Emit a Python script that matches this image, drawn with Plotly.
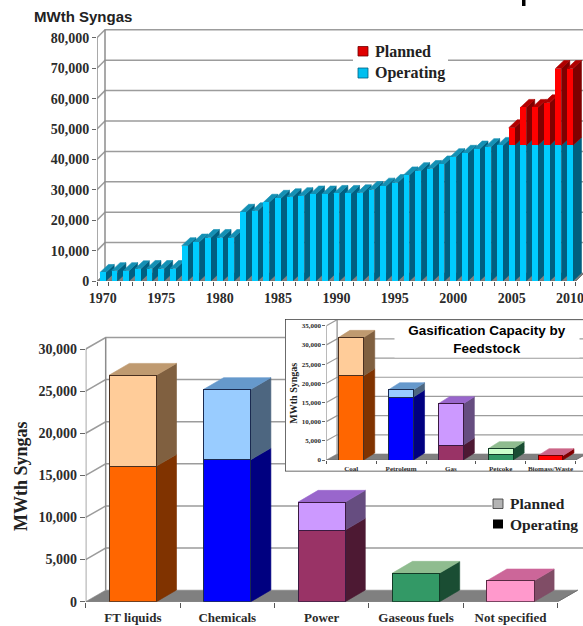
import plotly.graph_objects as go

W, H = 583, 626
SERIF = "Liberation Serif"
SANS = "Liberation Sans"
AXIS_TXT = "#2b2b2b"
GRID = "#9c9c9c"

# ---- top chart data -------------------------------------------------------
years = list(range(1970, 2011))
op_by_year = [2800, 3400, 3400, 4000, 4100, 4100, 4100, 11600, 12800, 14300, 14300,
              14300, 22600, 23100, 25900, 27200, 27700, 28060, 28600, 28600, 28800,
              28800, 29000, 30100, 31200, 32400, 34900, 36300, 37000, 38500, 40900,
              42000, 43400, 44200, 44600, 44600, 44600, 44600, 44600, 44600, 44600]
plan_by_year = [0] * 35 + [5800, 12500, 12500, 14000, 25300, 25300]
year_ticks = [1970, 1975, 1980, 1985, 1990, 1995, 2000, 2005, 2010]
top_y_ticks = [0, 10000, 20000, 30000, 40000, 50000, 60000, 70000, 80000]

# ---- lower chart data -----------------------------------------------------
products = ["FT liquids", "Chemicals", "Power", "Gaseous fuels", "Not specified"]
op_by_product = [16100, 16860, 8510, 3400, 2490]
plan_by_product = [10800, 8350, 3320, 0, 0]
low_y_ticks = [0, 5000, 10000, 15000, 20000, 25000, 30000]

# ---- inset data -----------------------------------------------------------
feedstocks = ["Coal", "Petroleum", "Gas", "Petcoke", "Biomass/Waste"]
op_by_feed = [21970, 16410, 3900, 1560, 1130]
plan_by_feed = [9990, 1910, 10780, 1390, 0]
inset_y_ticks = [0, 5000, 10000, 15000, 20000, 25000, 30000, 35000]

# ---- colours per bar: front op, front planned, side op, side planned, top, edge
PAL_TOP_OP = dict(f="#00CCFF", s="#005F80", t="#1490B4", e="#0090B8")
PAL_TOP_PL = dict(f="#FF0000", s="#800000", t="#B00000", e="#D00000")
PAL_ORANGE = dict(f="#FF6600", p="#FFCC99", s="#803300", sp="#806040", t="#BF9A70", e="#4a3020")
PAL_BLUE = dict(f="#0000FF", p="#99CCFF", s="#000080", sp="#4D6680", t="#6699CC", e="#1a2a50")
PAL_PLUM = dict(f="#993366", p="#CC99FF", s="#4D1933", sp="#664D80", t="#9966CC", e="#3a1a40")
PAL_GREEN = dict(f="#339966", p="#CCFFCC", s="#1A4D33", sp="#1A4D33", t="#8FBC8F", e="#123a26")
PAL_PINK = dict(f="#FF99CC", p="#FF99CC", s="#804D66", sp="#804D66", t="#CC6699", e="#5a2a44")
PAL_RED = dict(f="#FF0000", p="#FF0000", s="#800000", sp="#800000", t="#CC6688", e="#700000")


def ydom(bottom_px, top_px):
    return [1 - bottom_px / H, 1 - top_px / H]


fig = go.Figure()
axes = {}


def poly_store():
    return {}


def add_poly(store, color, xs, ys):
    pts = store.setdefault(color, ([], []))
    pts[0].extend(list(xs) + [xs[0], None])
    pts[1].extend(list(ys) + [ys[0], None])


def flush(store, xa, ya, line_w=0.6, line_color=None):
    for color, (xs, ys) in store.items():
        fig.add_trace(go.Scatter(x=xs, y=ys, xaxis=xa, yaxis=ya, mode="lines", fill="toself",
                                 fillcolor=color, line=dict(color=line_color or color, width=line_w),
                                 hoverinfo="skip", showlegend=False, cliponaxis=False))


def lines(xs, ys, xa, ya, color=GRID, width=1.5):
    fig.add_trace(go.Scatter(x=xs, y=ys, xaxis=xa, yaxis=ya, mode="lines",
                             line=dict(color=color, width=width), hoverinfo="skip",
                             showlegend=False, cliponaxis=False))


def chart(ids, x0_px, sp_px, zero_px, unit_px, top_px, right_px, positions, labels_x, labels_text,
          ops, plans, pal_op, pal_plan, y_ticks, dx_wall_px, dy_wall_px, dx_px, dy_px, bar_w,
          floor_color, tick_font, xlab_font, edge=True, ticklen=5, xlabel_pad=6, grid_w=1.5):
    xa, ya, xb, yb = ids
    left = positions[0] - 0.5
    right = positions[-1] + 0.5
    x_max = left + (right_px - x0_px) / sp_px
    y_hi = (zero_px - top_px) / unit_px
    wx = dx_wall_px / sp_px
    wy = dy_wall_px / unit_px
    dx = dx_px / sp_px
    dy = dy_px / unit_px
    tmax = y_ticks[-1]

    # floor
    if floor_color:
        add = {}
        add_poly(add, floor_color, [left, right, right + wx, left + wx], [0, 0, wy, wy])
        flush(add, xa, ya)
    # back wall
    for v in y_ticks:
        if v == 0:
            continue
        lines([left, left + wx, x_max], [v, v + wy, v + wy], xa, ya, width=grid_w)
    lines([left, left], [0, tmax], xa, ya, color="#8c8c8c", width=grid_w)
    lines([left + wx, left + wx], [wy, tmax + wy], xa, ya, color="#8c8c8c", width=grid_w)
    lines([left, right, right + wx], [0, 0, wy], xa, ya, color="#707070", width=1)

    sides, tops = poly_store(), poly_store()
    for i, p in enumerate(positions):
        l, r = p - bar_w / 2, p + bar_w / 2
        po, pp = pal_op[i], pal_plan[i]
        o, q = ops[i], plans[i]
        add_poly(sides, po["s"], [r, r + dx, r + dx, r], [0, dy, o + dy, o])
        total = o + q
        if q > 0:
            add_poly(sides, pp.get("sp", pp["s"]), [r, r + dx, r + dx, r], [o, o + dy, total + dy, total])
        add_poly(tops, pp["t"] if q > 0 else po["t"], [l, r, r + dx, l + dx],
                 [total, total, total + dy, total + dy])
    flush(sides, xa, ya)
    flush(tops, xa, ya)

    def line_for(pals):
        if not edge:
            return dict(width=0)
        return dict(color=[c["e"] for c in pals], width=1)

    fig.add_trace(go.Bar(x=positions, y=ops, xaxis=xb, yaxis=yb, width=bar_w, name="Operating",
                         marker=dict(color=[c["f"] for c in pal_op], line=line_for(pal_op)),
                         showlegend=False, hoverinfo="x+y"))
    fig.add_trace(go.Bar(x=positions, y=plans, xaxis=xb, yaxis=yb, width=bar_w, name="Planned",
                         marker=dict(color=[c.get("p", c["f"]) for c in pal_plan], line=line_for(pal_plan)),
                         showlegend=False, hoverinfo="x+y"))

    edges = [p - 0.5 for p in positions] + [right]
    dom = [x0_px / W, right_px / W]
    yd = ydom(zero_px, top_px)
    base = dict(domain=dom, range=[left, x_max], showgrid=False, zeroline=False, showline=False)
    axes[xa] = dict(base, anchor=ya, tickmode="array", tickvals=edges, ticktext=[""] * len(edges),
                    ticks="outside", ticklen=ticklen, tickcolor="#555555", tickwidth=1)
    axes[ya] = dict(domain=yd, range=[0, y_hi], anchor=xa, showgrid=False, zeroline=False, showline=False,
                    tickmode="array", tickvals=y_ticks, tickformat=",", ticks="outside", ticklen=ticklen,
                    tickcolor="#666666", tickwidth=1, tickfont=tick_font)
    axes[xb] = dict(base, anchor=yb, overlaying=xa, tickmode="array", tickvals=labels_x, ticktext=labels_text,
                    ticks="outside", ticklen=xlabel_pad, tickcolor="rgba(0,0,0,0)", tickfont=xlab_font,
                    ticklabeloverflow="allow")
    axes[yb] = dict(domain=yd, range=[0, y_hi], anchor=xb, overlaying=ya, visible=False)


def bold(size):
    return dict(family=SERIF, size=size, color=AXIS_TXT, weight="bold")


# -- top chart
chart(("x", "y", "x2", "y2"), 97, 11.68, 281, 30.4 / 10000, 29, 583, years, year_ticks,
      [str(y) for y in year_ticks], op_by_year, plan_by_year, [PAL_TOP_OP] * 41,
      [PAL_TOP_PL] * 41, top_y_ticks, 8, 8, 8.5, 8, 0.5, "#808080", bold(14), bold(14),
      ticklen=4, xlabel_pad=4, edge=False)

# -- lower chart
pals_low = [PAL_ORANGE, PAL_BLUE, PAL_PLUM, PAL_GREEN, PAL_PINK]
chart(("x3", "y3", "x4", "y4"), 85.7, 94.4, 601.7, 252.7 / 30000, 336, 583, list(range(5)), list(range(5)),
      products, op_by_product, plan_by_product, pals_low, pals_low, low_y_ticks, 20, 11.5, 20, 11.7, 0.5,
      "#808080", bold(14), bold(13), ticklen=5, xlabel_pad=4)

# -- inset panel (white card over the lower chart)
fig.add_trace(go.Scatter(x=[0, 1.1, 1.1, 0, 0], y=[0, 0, 1, 1, 0], xaxis="x5", yaxis="y5", mode="lines",
                         fill="toself", fillcolor="#FFFFFF", line=dict(color="#3a3a3a", width=1.5),
                         hoverinfo="skip", showlegend=False, cliponaxis=False))
axes["x5"] = dict(domain=[285 / W, 1], range=[0, 1], visible=False, anchor="y5")
axes["y5"] = dict(domain=ydom(471.5, 319), range=[0, 1], visible=False, anchor="x5")

# -- inset chart
pals_in = [PAL_ORANGE, PAL_BLUE, PAL_PLUM, PAL_GREEN, PAL_RED]
chart(("x6", "y6", "x7", "y7"), 326.4, 49.8, 460, 134.3 / 35000, 320, 583, list(range(5)), list(range(5)),
      feedstocks, op_by_feed, plan_by_feed, pals_in, pals_in, inset_y_ticks, 10.7, 6, 11, 7, 0.5,
      "#808080", bold(7), bold(7), ticklen=3, xlabel_pad=2, grid_w=1.2)

annotations = [
    dict(text="<b>MWth Syngas</b>", x=32, y=17, xanchor="left", font=dict(family=SANS, size=15, color="#222222")),
    dict(text="<b>MWth Syngas</b>", x=21, y=476, textangle=-90, font=dict(family=SERIF, size=18, color="#222222")),
    dict(text="<b>MWth Syngas</b>", x=292.7, y=393, textangle=-90, font=dict(family=SERIF, size=10, color="#222222")),
    dict(text="<b>Gasification Capacity by<br>Feedstock</b>", x=486.7, y=339.5, width=182, bgcolor="#FFFFFF",
         font=dict(family=SANS, size=13.5, color="#000000")),
    dict(text="<b>Planned</b>", x=373, y=51, xanchor="left", font=dict(family=SERIF, size=16, color="#222222")),
    dict(text="<b>Operating</b>", x=373, y=73, xanchor="left", font=dict(family=SERIF, size=16, color="#222222")),
    dict(text="<b>Planned</b>", x=507.5, y=503.5, xanchor="left", font=dict(family=SERIF, size=15.5, color="#222222")),
    dict(text="<b>Operating</b>", x=507.5, y=524, xanchor="left", font=dict(family=SERIF, size=15.5, color="#222222")),
]
for a in annotations:
    a.update(xref="paper", yref="paper", x=a["x"] / W, y=1 - a["y"] / H, showarrow=False, yanchor="middle",
             xshift=0)
    a.setdefault("xanchor", "center")


def box(x0, x1, y0, y1, fill, edge_color=None):
    return dict(type="rect", xref="paper", yref="paper", x0=x0 / W, x1=x1 / W, y0=1 - y1 / H, y1=1 - y0 / H,
                fillcolor=fill, line=dict(color=edge_color, width=0.8) if edge_color else dict(width=0))


shapes = [
    box(522, 525.5, 0, 6, "#000000"),
    box(353, 448, 40, 85, "#FFFFFF"),
    box(358, 368, 46.5, 56, "#E00000", "#700000"),
    box(358, 368, 68, 78, "#00BFF0", "#006080"),
    box(491.7, 583, 495, 534, "#FFFFFF"),
    box(493, 503, 499, 508.5, "#B4B4B4", "#333333"),
    box(493, 503, 519.5, 528.5, "#000000"),
]

layout_axes = {}
for k, v in axes.items():
    name = ("xaxis" if k[0] == "x" else "yaxis") + k[1:]
    layout_axes[name] = v

fig.update_layout(
    width=W, height=H, autosize=False, margin=dict(l=0, r=0, t=0, b=0, autoexpand=False),
    paper_bgcolor="#FFFFFF", plot_bgcolor="rgba(0,0,0,0)", barmode="stack", annotations=annotations,
    showlegend=False, font=dict(family=SERIF, color=AXIS_TXT), shapes=shapes,
    **layout_axes,
)

fig.write_html("out.html", config=dict(displayModeBar=False),
               post_script="document.body.style.margin='0';")
